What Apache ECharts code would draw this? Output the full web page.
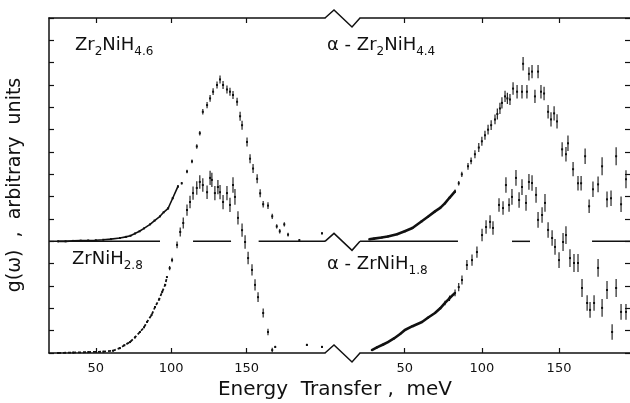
<!DOCTYPE html>
<html>
<head>
<meta charset="utf-8">
<script src="https://cdn.jsdelivr.net/npm/echarts@6/dist/echarts.min.js"></script>
<style>
  html, body { margin: 0; padding: 0; background: #fff; }
  #main { width: 630px; height: 403px; }
</style>
</head>
<body>
<div id="main"></div>
<script>
// each point: [energy transfer meV, g(w) above its own baseline, error]
var zr2NiH46 = [[25,0,0],[30,0,0],[35,0.02,0],[40,0.03,0],[45,0.04,0],[50,0.05,0],[55,0.07,0],[60,0.1,0],[66,0.15,0],[70,0.2,0],[73,0.25,0],[76,0.35,0],[79,0.45,0],[82,0.58,0],[86,0.76,0],[89,0.93,0],[92.6,1.12,0],[95,1.3,0],[98,1.48,0.05],[101,1.93,0.05],[104.5,2.46,0.06],[107,2.6,0.06],[110.5,3.13,0.08],[113.8,3.58,0.08],[117,4.25,0.1],[119,4.84,0.1],[121,5.8,0.12],[123.8,6.1,0.14],[125.8,6.4,0.15],[127.8,6.7,0.15],[130.4,7.0,0.16],[132.4,7.25,0.18],[134.4,7.0,0.18],[137,6.8,0.18],[139,6.7,0.18],[141,6.55,0.18],[143.7,6.25,0.18],[145.7,5.6,0.2],[147,5.2,0.2],[150.3,4.45,0.2],[152.3,3.7,0.2],[154.3,3.26,0.2],[157,2.8,0.2],[159,2.15,0.18],[161,1.66,0.15],[164.2,1.6,0.15],[167,1.12,0.12],[170,0.67,0.1],[172,0.45,0.1],[175,0.76,0.1],[177.5,0.3,0.08],[185,0.05,0.05],[200,0.36,0.05]];

var zrNiH28 = [[25,0,0],[35,0.02,0],[45,0.04,0],[55,0.06,0],[61.4,0.1,0],[66,0.22,0],[69,0.35,0],[72.7,0.49,0],[76,0.7,0],[79.3,0.94,0],[82,1.15,0],[84,1.39,0],[87,1.7,0],[89.3,2.06,0],[92,2.4,0],[94,2.73,0],[96,3.05,0],[97.2,3.4,0],[99,3.8,0.1],[100.6,4.16,0.1],[103.9,4.84,0.15],[106,5.42,0.2],[108,5.82,0.25],[110.5,6.4,0.25],[112.5,6.76,0.28],[114.5,7.16,0.3],[117,7.39,0.3],[119,7.66,0.3],[121,7.52,0.3],[123.8,7.2,0.3],[125.8,7.84,0.32],[127,7.75,0.32],[129,7.16,0.32],[131,7.43,0.32],[132.4,7.2,0.32],[134.4,6.76,0.32],[137,7.16,0.32],[139,6.63,0.32],[141,7.52,0.35],[142.3,6.99,0.35],[144.3,6.05,0.3],[147,5.5,0.3],[149,4.97,0.3],[151,4.25,0.28],[153.6,3.72,0.25],[155.6,3.05,0.25],[157.6,2.5,0.22],[161,1.79,0.2],[164.2,0.94,0.15],[167,0.13,0.1],[169,0.27,0.05],[190,0.36,0.05],[200,0.27,0.05]];

var zr2NiH44 = [[27,0.09,0],[30,0.12,0],[35,0.17,0],[39,0.22,0],[45,0.32,0],[50,0.45,0],[55,0.6,0],[61,0.9,0],[65,1.1,0],[69.6,1.34,0],[73,1.5,0],[76,1.7,0],[79,1.95,0],[82.6,2.24,0.08],[85,2.6,0.1],[87,3.0,0.12],[91,3.36,0.15],[93,3.6,0.15],[95.5,3.9,0.18],[98,4.2,0.2],[100,4.48,0.2],[102,4.75,0.2],[104,5.0,0.22],[106,5.2,0.22],[108.5,5.46,0.22],[110,5.7,0.25],[111.7,5.95,0.25],[113,6.2,0.25],[115,6.49,0.25],[116.5,6.4,0.25],[118.2,6.35,0.25],[120.2,6.84,0.28],[122.8,6.7,0.3],[126,6.7,0.3],[126.7,7.95,0.3],[129.2,6.7,0.3],[130.5,7.5,0.3],[132.5,7.6,0.3],[134.4,6.49,0.3],[136.4,7.6,0.3],[138.3,6.7,0.3],[140.3,6.62,0.3],[142.9,5.8,0.3],[144.8,5.46,0.32],[146.8,5.73,0.32],[148.7,5.37,0.32],[152,4.12,0.32],[154.5,3.9,0.32],[155.8,4.39,0.35],[159.1,3.23,0.32],[162.3,2.6,0.32],[164.3,2.6,0.32],[166.9,3.81,0.35],[169.5,1.57,0.3],[172,2.33,0.35],[175.3,2.55,0.35],[177.9,3.36,0.4],[181.1,1.88,0.35],[183.7,1.93,0.35],[187,3.81,0.4],[190.2,1.66,0.35],[193.4,2.78,0.4]];

var zrNiH18 = [[28.7,0.13,0],[32,0.25,0],[36,0.38,0],[39.1,0.49,0],[43,0.65,0],[47,0.85,0],[50.1,1.03,0],[55,1.2,0],[61.2,1.39,0],[65,1.58,0],[69.6,1.79,0],[73,2.0,0],[76.1,2.24,0.1],[79,2.45,0.12],[82.6,2.69,0.15],[85,2.95,0.18],[87.1,3.27,0.2],[90.3,3.94,0.22],[93.6,4.16,0.25],[96.8,4.52,0.25],[100.1,5.28,0.28],[102.7,5.64,0.3],[105.3,5.87,0.3],[107.2,5.6,0.3],[111.1,6.63,0.3],[113.7,6.49,0.3],[115.6,7.52,0.35],[117.6,6.63,0.3],[119.5,6.99,0.35],[122.1,7.84,0.35],[124.1,6.85,0.35],[126,7.43,0.35],[128.6,6.72,0.35],[130.5,7.66,0.35],[132.5,7.61,0.35],[135.1,7.08,0.35],[136.4,5.96,0.35],[139,6.18,0.35],[140.9,6.72,0.4],[142.9,5.51,0.35],[145.5,5.15,0.35],[147.4,4.75,0.35],[150,4.16,0.35],[152.6,4.97,0.4],[154.5,5.28,0.4],[157.1,4.25,0.4],[159.7,4.03,0.4],[162.3,4.03,0.4],[164.9,2.91,0.4],[168.2,2.24,0.35],[170.1,1.93,0.35],[172.7,2.24,0.35],[175.3,3.81,0.4],[177.9,2.02,0.4],[181.1,2.82,0.4],[184.4,0.94,0.35],[187,2.91,0.4],[190.2,1.84,0.35],[193.4,1.84,0.35]];

// visible pieces of the upper baseline, [from, to] in meV
var baseLeft = [[19, 92.6], [114.5, 139.7], [158, 202]];
var baseRight = [[21, 84.5], [119.5, 131.2], [171.4, 196]];

var tickValues = [50, 100, 150];
var upperOffset = 5;

var ink = '#111';
var chart = echarts.init(document.getElementById('main'));

function lift(arr) {
  return arr.map(function (p) { return [p[0], p[1] + upperOffset, p[2]]; });
}
function denseLine(arr, upTo) {
  return arr.filter(function (p) { return p[0] <= upTo; }).map(function (p) { return [p[0], p[1]]; });
}

function renderBars(params, api) {
  var x = api.value(0), y = api.value(1), e = api.value(2);
  var c = api.coord([x, y]);
  var kids = [{ type: 'rect', shape: { x: c[0] - 1, y: c[1] - 1, width: 2, height: 2 }, style: { fill: ink } }];
  if (e > 0) {
    var hi = api.coord([x, y + e]), lo = api.coord([x, y - e]);
    kids.push({ type: 'line', shape: { x1: c[0], y1: hi[1], x2: c[0], y2: lo[1] }, style: { stroke: ink, lineWidth: 1.1 } });
  }
  return { type: 'group', children: kids };
}
function renderBase(params, api) {
  var a = api.coord([api.value(0), upperOffset]);
  var b = api.coord([api.value(1), upperOffset]);
  return { type: 'line', shape: { x1: a[0], y1: a[1], x2: b[0], y2: b[1] }, style: { stroke: ink, lineWidth: 1.5 } };
}

function xAx(grid, min, max, pos) {
  return {
    type: 'value', gridIndex: grid, min: min, max: max, position: pos,
    axisLine: { onZero: false, lineStyle: { color: ink, width: 1.5 } },
    axisTick: { inside: true, length: 5, customValues: tickValues, lineStyle: { color: ink, width: 1.2 } },
    axisLabel: { show: pos === 'bottom', customValues: tickValues, color: ink, fontSize: 13, margin: 9, fontFamily: 'DejaVu Sans' },
    splitLine: { show: false }
  };
}
function yAx(grid, pos, showLine) {
  return {
    type: 'value', gridIndex: grid, min: 0, max: 15, interval: 1, position: pos,
    axisLine: { show: showLine, onZero: false, lineStyle: { color: ink, width: 1.5 } },
    axisTick: { inside: true, length: 5, lineStyle: { color: ink, width: 1.2 } },
    axisLabel: { show: false },
    splitLine: { show: false }
  };
}

function label(left, top, rich) {
  return {
    type: 'text', left: left, top: top,
    style: {
      text: rich, fill: ink,
      rich: {
        m: { fontSize: 18, fontFamily: 'DejaVu Sans', fill: ink, lineHeight: 22, verticalAlign: 'bottom' },
        s: { fontSize: 12, fontFamily: 'DejaVu Sans', fill: ink, lineHeight: 22, verticalAlign: 'bottom', padding: [0, 0, -4, 0] }
      }
    }
  };
}

function dense(w, dash) {
  return { type: 'line', showSymbol: false, symbol: 'none', lineStyle: { color: ink, width: w, type: dash || 'solid' }, silent: true, z: 3 };
}

var series = [
  { type: 'custom', xAxisIndex: 0, yAxisIndex: 0, renderItem: renderBars, data: lift(zr2NiH46) },
  { type: 'custom', xAxisIndex: 0, yAxisIndex: 0, renderItem: renderBars, data: zrNiH28 },
  { type: 'custom', xAxisIndex: 2, yAxisIndex: 1, renderItem: renderBars, data: lift(zr2NiH44) },
  { type: 'custom', xAxisIndex: 2, yAxisIndex: 1, renderItem: renderBars, data: zrNiH18 },
  { type: 'custom', xAxisIndex: 0, yAxisIndex: 0, renderItem: renderBase, data: baseLeft },
  { type: 'custom', xAxisIndex: 2, yAxisIndex: 1, renderItem: renderBase, data: baseRight }
];
series.push(Object.assign(dense(1.6), { xAxisIndex: 0, yAxisIndex: 0, data: denseLine(lift(zr2NiH46), 104.5) }));
series.push(Object.assign(dense(1.8, [3, 2]), { xAxisIndex: 0, yAxisIndex: 0, data: denseLine(zrNiH28, 97.2) }));
series.push(Object.assign(dense(2.6), { xAxisIndex: 2, yAxisIndex: 1, data: denseLine(lift(zr2NiH44), 82.6) }));
series.push(Object.assign(dense(2.6), { xAxisIndex: 2, yAxisIndex: 1, data: denseLine(zrNiH18, 82.6) }));

chart.setOption({
  backgroundColor: '#fff',
  animation: false,
  grid: [
    { left: 49, top: 18, width: 276, height: 335 },
    { left: 360, top: 18, width: 270, height: 335 }
  ],
  xAxis: [xAx(0, 19, 202, 'bottom'), xAx(0, 19, 202, 'top'), xAx(1, 21, 196, 'bottom'), xAx(1, 21, 196, 'top')],
  yAxis: [yAx(0, 'left', true), yAx(1, 'right', false)],
  series: series
});

// axis break zigzags on the top line, the upper baseline and the bottom axis
var yTop = chart.convertToPixel({ yAxisIndex: 0 }, 15);
var yMid = chart.convertToPixel({ yAxisIndex: 0 }, upperOffset);
var yBot = chart.convertToPixel({ yAxisIndex: 0 }, 0);
var xa = chart.convertToPixel({ xAxisIndex: 0 }, 202);
var xb = chart.convertToPixel({ xAxisIndex: 2 }, 21);
function zigzag(y) {
  return {
    type: 'polyline', silent: true,
    shape: { points: [[xa, y], [xa + 9, y - 8], [xb - 8, y + 9], [xb, y]] },
    style: { stroke: ink, lineWidth: 1.5, fill: null }
  };
}

chart.setOption({
  graphic: [
    zigzag(yTop), zigzag(yMid), zigzag(yBot),
    label(75, 36, '{m|Zr}{s|2}{m|NiH}{s|4.6}'),
    label(327, 36, '{m|α - Zr}{s|2}{m|NiH}{s|4.4}'),
    label(72, 250, '{m|ZrNiH}{s|2.8}'),
    label(327, 255, '{m|α - ZrNiH}{s|1.8}'),
    {
      type: 'text', x: 15, y: 185, rotation: Math.PI / 2,
      style: { text: 'g(ω)  ,  arbitrary  units', fill: ink, font: '19px "DejaVu Sans"', align: 'center', verticalAlign: 'middle' }
    },
    {
      type: 'text', x: 335, y: 390,
      style: { text: 'Energy  Transfer ,  meV', fill: ink, font: '20px "DejaVu Sans"', align: 'center', verticalAlign: 'middle' }
    }
  ]
});
</script>
</body>
</html>
